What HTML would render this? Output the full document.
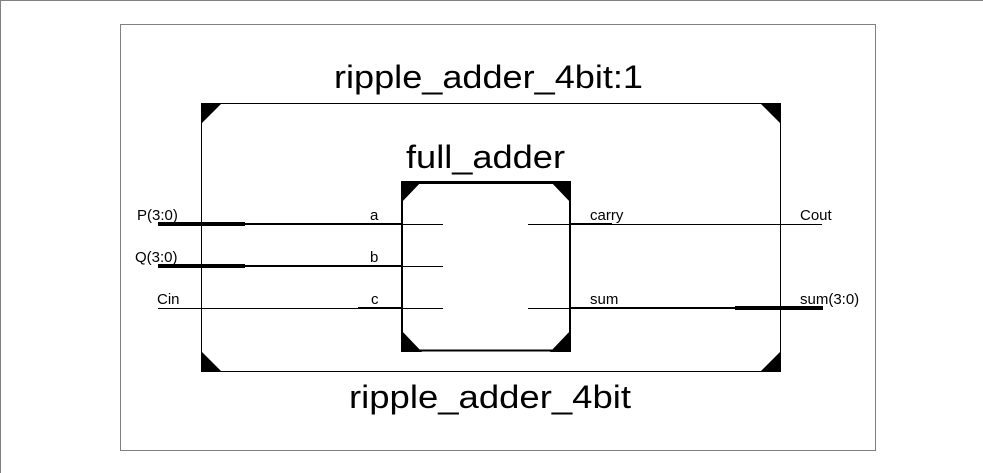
<!DOCTYPE html>
<html><head><meta charset="utf-8"><style>
html,body{margin:0;padding:0;background:#fff;}
svg{display:block;}
text{font-family:"Liberation Sans",Arial,sans-serif;fill:#000;}
</style></head><body>
<svg width="983" height="473" viewBox="0 0 983 473" xmlns="http://www.w3.org/2000/svg">
<line x1="0" y1="0.5" x2="983" y2="0.5" stroke="#808080" stroke-width="1"/>
<line x1="0.5" y1="0" x2="0.5" y2="473" stroke="#808080" stroke-width="1"/>
<rect x="120.5" y="24.5" width="755" height="426" fill="none" stroke="#808080" stroke-width="1"/>

<text x="334" y="88" font-size="32" textLength="309" lengthAdjust="spacingAndGlyphs">ripple_adder_4bit:1</text>
<text x="406" y="168" font-size="32" textLength="159" lengthAdjust="spacingAndGlyphs">full_adder</text>
<text x="349" y="408" font-size="32" textLength="282" lengthAdjust="spacingAndGlyphs">ripple_adder_4bit</text>

<rect x="201.5" y="103.5" width="579" height="268" fill="none" stroke="#000" stroke-width="1"/>
<polygon points="201,103 222,103 201,124" fill="#000"/>
<polygon points="760,103 781,103 781,124" fill="#000"/>
<polygon points="201,351 201,372 222,372" fill="#000"/>
<polygon points="781,351 781,372 760,372" fill="#000"/>

<rect x="402" y="182.5" width="168" height="168" fill="none" stroke="#000" stroke-width="2"/>
<line x1="401" y1="182.5" x2="571" y2="182.5" stroke="#000" stroke-width="3"/>
<line x1="401" y1="350.5" x2="571" y2="350.5" stroke="#000" stroke-width="2"/>
<polygon points="401,181 422,181 401,203" fill="#000"/>
<polygon points="550,181 571,181 571,203" fill="#000"/>
<polygon points="401,330 401,352 422,352" fill="#000"/>
<polygon points="571,330 571,352 550,352" fill="#000"/>

<line x1="158" y1="224" x2="245" y2="224" stroke="#000" stroke-width="4"/>
<line x1="245" y1="224" x2="401" y2="224" stroke="#000" stroke-width="2"/>
<line x1="401" y1="224.5" x2="443" y2="224.5" stroke="#000" stroke-width="1"/>
<line x1="158" y1="266" x2="245" y2="266" stroke="#000" stroke-width="4"/>
<line x1="245" y1="266" x2="401" y2="266" stroke="#000" stroke-width="2"/>
<line x1="401" y1="266.5" x2="443" y2="266.5" stroke="#000" stroke-width="1"/>
<line x1="158" y1="308.5" x2="401" y2="308.5" stroke="#000" stroke-width="1"/>
<line x1="358" y1="308" x2="401" y2="308" stroke="#000" stroke-width="2"/>
<line x1="401" y1="308.5" x2="443" y2="308.5" stroke="#000" stroke-width="1"/>

<line x1="528" y1="224.5" x2="822" y2="224.5" stroke="#000" stroke-width="1"/>
<line x1="570" y1="224" x2="612" y2="224" stroke="#000" stroke-width="2"/>
<line x1="528" y1="308.5" x2="570" y2="308.5" stroke="#000" stroke-width="1"/>
<line x1="570" y1="308" x2="735" y2="308" stroke="#000" stroke-width="2"/>
<line x1="735" y1="308" x2="823" y2="308" stroke="#000" stroke-width="4"/>

<g font-size="15">
<text x="137" y="220">P(3:0)</text>
<text x="135" y="262">Q(3:0)</text>
<text x="157" y="304">Cin</text>
<text x="370" y="220">a</text>
<text x="370" y="262">b</text>
<text x="371" y="304">c</text>
<text x="590" y="220">carry</text>
<text x="590" y="304">sum</text>
<text x="800" y="220">Cout</text>
<text x="800" y="304">sum(3:0)</text>
</g>
</svg>
</body></html>
